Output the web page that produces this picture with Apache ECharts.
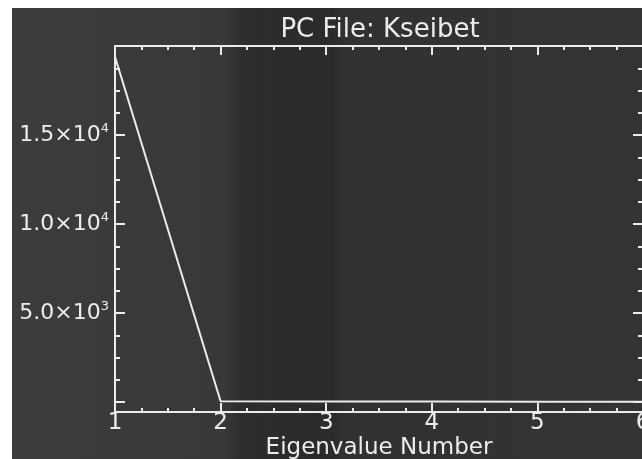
<!DOCTYPE html>
<html>
<head>
<meta charset="utf-8">
<title>PC File: Kseibet</title>
<script src="https://cdn.jsdelivr.net/npm/echarts@6/dist/echarts.min.js"></script>
<style>
    html, body { margin: 0; padding: 0; background: #fff; }
    #main { width: 642px; height: 459px; }
</style>
</head>
<body>
<div id="main"></div>
<script>
    // eigenvalue spectrum
    var eigenNumber = [1, 2, 3, 4, 5, 6];
    var eigenValue = [19400, 40, 32, 25, 18, 12];
    // y tick values that carry a label
    var yLabelValues = [5000, 10000, 15000];
    var xTitle = 'Eigenvalue Number';
    var chartTitle = 'PC File: Kseibet';

    var FONT = 'DejaVu Sans';
    var INK = '#ececec';

    var points = [];
    for (var i = 0; i < eigenNumber.length; i++) {
        points.push([eigenNumber[i], eigenValue[i]]);
    }

    function sciLabel(v) {
        if (yLabelValues.indexOf(v) < 0) {
            return '';
        }
        var e = Math.floor(Math.log10(v));
        var m = (v / Math.pow(10, e)).toFixed(1);
        return '{m|' + m + '×10}{e|' + e + '}';
    }

    var tickStyle = { color: INK, width: 2 };

    var chart = echarts.init(document.getElementById('main'));
    var option = {
        animation: false,
        backgroundColor: '#ffffff',
        graphic: [{
            type: 'rect',
            z: -100,
            silent: true,
            shape: { x: 12, y: 8, width: 640, height: 460 },
            style: {
                fill: new echarts.graphic.LinearGradient(0, 0, 1, 0, [
                    { offset: 0, color: '#3b3d3c' },
                    { offset: 0.33, color: '#373938' },
                    { offset: 0.36, color: '#2c2d2c' },
                    { offset: 0.5, color: '#2a2b2a' },
                    { offset: 0.52, color: '#303130' },
                    { offset: 1, color: '#333433' }
                ])
            }
        }],
        title: {
            text: chartTitle,
            left: 380,
            top: 17,
            padding: 0,
            textAlign: 'center',
            textStyle: { color: INK, fontFamily: FONT, fontSize: 26, fontWeight: 'normal' }
        },
        grid: [
            { left: 115, top: 46, width: 528, height: 366, outerBoundsMode: 'none' },
            { left: 115, top: 46, width: 528, height: 356, outerBoundsMode: 'none' }
        ],
        xAxis: [
            {
                gridIndex: 0,
                type: 'value',
                position: 'bottom',
                min: 1,
                max: 6,
                interval: 1,
                name: xTitle,
                nameLocation: 'middle',
                nameGap: 25,
                nameMoveOverlap: false,
                nameTextStyle: { color: INK, fontFamily: FONT, fontSize: 23 },
                axisLine: { onZero: false, lineStyle: tickStyle },
                axisTick: { inside: true, length: 9, lineStyle: tickStyle },
                minorTick: { show: true, splitNumber: 4, length: 4, lineStyle: tickStyle },
                axisLabel: { color: INK, fontFamily: FONT, fontSize: 23, margin: 0, showMinLabel: true, showMaxLabel: true },
                splitLine: { show: false }
            },
            {
                gridIndex: 0,
                type: 'value',
                position: 'top',
                min: 1,
                max: 6,
                interval: 1,
                axisLine: { onZero: false, lineStyle: tickStyle },
                axisTick: { inside: true, length: 9, lineStyle: tickStyle },
                minorTick: { show: true, splitNumber: 4, length: 4, lineStyle: tickStyle },
                axisLabel: { show: false },
                splitLine: { show: false }
            },
            {
                gridIndex: 1,
                type: 'value',
                min: 1,
                max: 6,
                show: false
            }
        ],
        yAxis: [
            {
                gridIndex: 0,
                type: 'value',
                position: 'left',
                min: -560,
                max: 20000,
                axisLine: { show: true, onZero: false, lineStyle: tickStyle },
                axisTick: { show: false },
                axisLabel: { show: false },
                splitLine: { show: false }
            },
            {
                gridIndex: 0,
                type: 'value',
                position: 'right',
                min: -560,
                max: 20000,
                axisLine: { show: true, onZero: false, lineStyle: tickStyle },
                axisTick: { show: false },
                axisLabel: { show: false },
                splitLine: { show: false }
            },
            {
                gridIndex: 1,
                type: 'value',
                position: 'left',
                min: 0,
                max: 20000,
                interval: 5000,
                axisLine: { show: false, onZero: false },
                axisTick: { show: true, inside: true, length: 10, lineStyle: tickStyle },
                minorTick: { show: true, splitNumber: 4, length: 5, lineStyle: tickStyle },
                axisLabel: {
                    margin: 6,
                    formatter: sciLabel,
                    rich: {
                        m: { color: INK, fontFamily: FONT, fontSize: 22 },
                        e: { color: INK, fontFamily: FONT, fontSize: 13, padding: [0, 0, 12, 0] }
                    }
                },
                splitLine: { show: false }
            },
            {
                gridIndex: 1,
                type: 'value',
                position: 'right',
                min: 0,
                max: 20000,
                interval: 5000,
                axisLine: { show: false, onZero: false },
                axisTick: { show: true, inside: true, length: 10, lineStyle: tickStyle },
                minorTick: { show: true, splitNumber: 4, length: 5, lineStyle: tickStyle },
                axisLabel: { show: false },
                splitLine: { show: false }
            }
        ],
        series: [
            {
                name: 'Eigenvalue',
                type: 'line',
                xAxisIndex: 2,
                yAxisIndex: 2,
                data: points,
                showSymbol: false,
                clip: false,
                lineStyle: { color: INK, width: 2 }
            }
        ]
    };
    chart.setOption(option);
</script>
</body>
</html>
